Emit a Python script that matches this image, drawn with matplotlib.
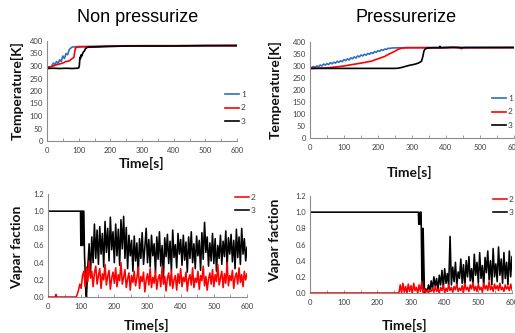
import numpy as np
import matplotlib
matplotlib.use("Agg")
import matplotlib.pyplot as plt
from matplotlib.ticker import MultipleLocator, FormatStrFormatter

# ---- data ----
# temperature, non pressurized
tl_t1 = [0, 5, 10, 15, 20, 25, 30, 35, 40, 45, 50, 55, 60, 65, 70, 75, 80, 90, 100, 150, 200, 250, 300, 400, 500, 600]
tl_T1 = [295, 297, 296, 300, 312, 305, 318, 310, 325, 318, 340, 330, 350, 345, 365, 372, 376, 377, 378, 378, 380, 381, 381, 381, 382, 382]
tl_t2 = [0, 10, 20, 30, 40, 50, 60, 70, 75, 80, 85, 88, 90, 95, 100, 120, 150, 200, 300, 400, 500, 600]
tl_T2 = [295, 296, 300, 305, 308, 312, 318, 320, 325, 330, 335, 360, 372, 375, 376, 377, 378, 380, 381, 381, 382, 383]
tl_t3 = [0, 20, 40, 60, 80, 95, 100, 102, 104, 106, 108, 110, 114, 118, 122, 126, 130, 140, 150, 200, 250, 300, 400, 500, 600]
tl_T3 = [290, 291, 290, 291, 290, 291, 292, 300, 335, 330, 345, 340, 355, 360, 370, 374, 375, 376, 376, 378, 380, 380, 380, 381, 381]

# temperature, pressurized
tr_t1 = list(range(0, 241, 5)) + [260, 350, 450, 600]
tr_T1 = [293, 294, 298, 295, 300, 297, 304, 300, 308, 304, 310, 306, 314, 309, 316, 312,
         320, 315, 322, 318, 327, 322, 330, 325, 334, 330, 338, 333, 342, 338, 346, 342,
         349, 345, 352, 349, 356, 352, 360, 357, 364, 361, 368, 365, 371, 369, 374, 373,
         375, 376, 377, 377, 377]
tr_t2 = [0, 50, 100, 120, 150, 180, 200, 220, 230, 240, 250, 260, 270, 280, 300, 400, 440, 445, 450, 600]
tr_T2 = [290, 292, 300, 305, 312, 320, 330, 340, 348, 355, 362, 370, 374, 376, 376, 376, 378, 372, 376, 377]
tr_t3 = [0, 100, 200, 250, 260, 270, 280, 290, 300, 310, 320, 328, 332, 335, 338, 345, 360, 380, 382, 384, 400, 420, 440, 460, 500, 600]
tr_T3 = [290, 290, 290, 290, 291, 294, 298, 302, 305, 308, 313, 320, 340, 362, 370, 375, 376, 376, 382, 376, 377, 378, 376, 377, 377, 377]

# vapor fraction, non pressurized
bl_t3_start = [0, 98, 99, 100, 101, 103, 104, 106, 108, 110, 112, 114, 116]
bl_v3_start = [1, 1, 0.6, 0.6, 1, 1, 0.6, 1, 1, 0.5, 0.3, 0.05, 0.0]
bl_v3 = [0.35, 0.62, 0.25, 0.70, 0.40, 0.85, 0.45, 0.78, 0.38, 0.82, 0.50, 0.74, 0.35, 0.88,
         0.52, 0.80, 0.42, 0.93, 0.55, 0.76, 0.40, 0.85, 0.48, 0.79, 0.37, 0.90, 0.56, 0.94,
         0.45, 0.81, 0.33, 0.72, 0.48, 0.66, 0.30, 0.71, 0.42, 0.63, 0.26, 0.68, 0.45, 0.75,
         0.38, 0.58, 0.80, 0.40, 0.67, 0.35, 0.72, 0.48, 0.62, 0.28, 0.70, 0.44, 0.76, 0.36,
         0.60, 0.22, 0.69, 0.47, 0.73, 0.39, 0.65, 0.30, 0.78, 0.46, 0.61, 0.34, 0.74, 0.50,
         0.67, 0.37, 0.72, 0.43, 0.64, 0.29, 0.70, 0.45, 0.76, 0.40, 0.62, 0.33, 0.71, 0.48,
         0.66, 0.31, 0.75, 0.44, 0.87, 0.52, 0.70, 0.36, 0.63, 0.42, 0.74, 0.39, 0.68, 0.30,
         0.60, 0.45, 0.72, 0.38, 0.65, 0.47, 0.77, 0.35, 0.69, 0.50, 0.73, 0.41, 0.66, 0.33,
         0.79, 0.46, 0.70, 0.38, 0.80, 0.50, 0.68, 0.42, 0.58]
bl_t2_start = [0, 22, 24, 26, 28, 85, 88, 92, 96, 100, 104, 108, 112]
bl_v2_start = [0, 0, 0.03, 0, 0, 0, 0.03, 0.08, 0.15, 0.1, 0.25, 0.3, 0.12]
bl_v2 = [0.35, 0.18, 0.42, 0.22, 0.30, 0.12, 0.28, 0.36, 0.15, 0.25, 0.33, 0.10, 0.27, 0.20,
         0.38, 0.14, 0.24, 0.31, 0.09, 0.22, 0.29, 0.16, 0.34, 0.12, 0.26, 0.19, 0.40, 0.15,
         0.23, 0.32, 0.11, 0.21, 0.28, 0.08, 0.25, 0.17, 0.30, 0.13, 0.22, 0.35, 0.10, 0.24,
         0.18, 0.29, 0.06, 0.20, 0.27, 0.14, 0.33, 0.11, 0.23, 0.16, 0.30, 0.09, 0.21, 0.26,
         0.12, 0.35, 0.15, 0.24, 0.07, 0.22, 0.28, 0.13, 0.31, 0.10, 0.20, 0.25, 0.08, 0.27,
         0.16, 0.33, 0.12, 0.23, 0.18, 0.29, 0.07, 0.21, 0.26, 0.14, 0.34, 0.11, 0.22, 0.17,
         0.30, 0.09, 0.25, 0.19, 0.36, 0.13, 0.24, 0.08, 0.21, 0.28, 0.15, 0.32, 0.12, 0.26,
         0.18, 0.38, 0.14, 0.22, 0.30, 0.11, 0.27, 0.16, 0.40, 0.13, 0.25, 0.19, 0.31, 0.10,
         0.23, 0.28, 0.15, 0.34, 0.17, 0.26, 0.12, 0.30, 0.20, 0.27]

# vapor fraction, pressurized
br_t3_start = [0, 322, 323, 326, 327, 330, 332, 334, 336, 338, 340, 344, 348]
br_v3_start = [1, 1, 0.85, 0.85, 1, 1, 0.3, 0.05, 0.8, 0.4, 0.0, 0.05, 0.02]
br_v3 = [0.10, 0.02, 0.15, 0.05, 0.20, 0.08, 0.18, 0.03, 0.22, 0.10, 0.28, 0.06, 0.30, 0.12,
         0.24, 0.08, 0.70, 0.10, 0.32, 0.14, 0.38, 0.09, 0.26, 0.18, 0.42, 0.12, 0.35, 0.07,
         0.40, 0.20, 0.45, 0.15, 0.30, 0.10, 0.48, 0.22, 0.38, 0.12, 0.50, 0.18, 0.34, 0.08,
         0.44, 0.25, 0.52, 0.16, 0.40, 0.10, 0.55, 0.20, 0.36, 0.14, 0.57, 0.22, 0.42, 0.12,
         0.50, 0.18, 0.38, 0.10, 0.52, 0.20, 0.45]
br_t2_start = [0, 264]
br_v2_start = [0, 0]
br_v2 = [0.10, 0.0, 0.12, 0.01, 0.08, 0.0, 0.11, 0.02, 0.09, 0.0, 0.12, 0.03, 0.07, 0.0,
         0.10, 0.02, 0.14, 0.0, 0.05, 0.01, 0.03, 0.0, 0.04, 0.02, 0.06, 0.01, 0.08, 0.02,
         0.05, 0.0, 0.07, 0.03, 0.09, 0.01, 0.06, 0.02, 0.10, 0.03, 0.07, 0.01, 0.08, 0.04,
         0.11, 0.02, 0.06, 0.03, 0.09, 0.01, 0.12, 0.04, 0.07, 0.02, 0.10, 0.05, 0.13, 0.03,
         0.08, 0.02, 0.11, 0.04, 0.07, 0.01, 0.12, 0.05, 0.09, 0.03, 0.14, 0.04, 0.08, 0.02,
         0.11, 0.05, 0.09, 0.03, 0.12, 0.04, 0.07, 0.02, 0.10, 0.05, 0.08, 0.03, 0.11, 0.04]

STEP = 4  # sampling of the noisy part [s]

BLUE = "#2e6fc4"
RED = "#ff0000"
BLACK = "#000000"
TICK_C = "#404040"
SPINE_C = "#8c8c8c"
LABEL_FONT = "Lato"


def join(t_start, v_start, v_noisy):
    # noisy samples continue after the last explicit point
    t0 = t_start[-1] + STEP
    t = list(t_start) + [t0 + STEP * i for i in range(len(v_noisy))]
    return np.array(t), np.array(list(v_start) + list(v_noisy))


def style_axes(ax, ymax, ystep):
    ax.set_xlim(0, 600)
    ax.set_ylim(0, ymax)
    ax.xaxis.set_major_locator(MultipleLocator(100))
    ax.xaxis.set_minor_locator(MultipleLocator(50))
    ax.yaxis.set_major_locator(MultipleLocator(ystep))
    for s in ["top", "right"]:
        ax.spines[s].set_visible(False)
    for s in ["left", "bottom"]:
        ax.spines[s].set_color(SPINE_C)
        ax.spines[s].set_linewidth(0.8)
    ax.tick_params(axis="both", which="both", colors=SPINE_C, labelcolor=TICK_C,
                   labelsize=5.5, width=0.6)
    ax.tick_params(axis="x", which="major", length=2.5, direction="in", pad=4)
    ax.tick_params(axis="x", which="minor", length=2, direction="in")
    ax.tick_params(axis="y", length=0, pad=3)


def fix_tick_fonts(ax):
    for lab in ax.get_xticklabels() + ax.get_yticklabels():
        lab.set_fontfamily(LABEL_FONT)


def legend(ax, fig, x, y):
    leg = ax.legend(loc="center left", bbox_to_anchor=(x, y), bbox_transform=fig.transFigure,
                    frameon=False, fontsize=6, handlelength=1.7, handletextpad=0.2,
                    labelspacing=0.75, borderpad=0, borderaxespad=0)
    for txt in leg.get_texts():
        txt.set_fontfamily(LABEL_FONT)
        txt.set_color(TICK_C)


W, H = 515, 333
fig = plt.figure(figsize=(W / 100, H / 100), dpi=100)


def add_axes(l, t, r, b):
    return fig.add_axes([l / W, 1 - b / H, (r - l) / W, (b - t) / H])


ax_tl = add_axes(47, 41, 237, 141)
ax_tr = add_axes(310, 42, 514, 138)
ax_bl = add_axes(48, 194, 247, 297)
ax_br = add_axes(310, 196, 512, 293)

# temperature plots
ax_tl.plot(tl_t1, tl_T1, color=BLUE, lw=1.2, label="1")
ax_tl.plot(tl_t2, tl_T2, color=RED, lw=1.2, label="2")
ax_tl.plot(tl_t3, tl_T3, color=BLACK, lw=1.2, label="3")
ax_tr.plot(tr_t1, tr_T1, color=BLUE, lw=1.2, label="1")
ax_tr.plot(tr_t2, tr_T2, color=RED, lw=1.2, label="2")
ax_tr.plot(tr_t3, tr_T3, color=BLACK, lw=1.2, label="3")
for ax in (ax_tl, ax_tr):
    style_axes(ax, 400, 50)

# vapor fraction plots
t, v = join(bl_t2_start, bl_v2_start, bl_v2)
ax_bl.plot(t, v, color=RED, lw=1.15, label="2", zorder=3)
t, v = join(bl_t3_start, bl_v3_start, bl_v3)
ax_bl.plot(t, v, color=BLACK, lw=1.15, label="3", zorder=2)
t, v = join(br_t2_start, br_v2_start, br_v2)
ax_br.plot(t, v, color=RED, lw=1.15, label="2", zorder=3)
t, v = join(br_t3_start, br_v3_start, br_v3)
ax_br.plot(t, v, color=BLACK, lw=1.15, label="3", zorder=2)
for ax in (ax_bl, ax_br):
    style_axes(ax, 1.2, 0.2)
    ax.yaxis.set_major_formatter(FormatStrFormatter("%.1f"))

for ax in (ax_tl, ax_tr, ax_bl, ax_br):
    fix_tick_fonts(ax)

legend(ax_tl, fig, 225 / W, 1 - 108 / H)
legend(ax_tr, fig, 492 / W, 1 - 112 / H)
legend(ax_bl, fig, 235 / W, 1 - 204 / H)
legend(ax_br, fig, 493 / W, 1 - 206 / H)

# titles and axis labels
fig.text(138 / W, 1 - 18 / H, "Non pressurize", ha="center", va="center",
         fontsize=13, family="Liberation Sans")
fig.text(406 / W, 1 - 18 / H, "Pressurerize", ha="center", va="center",
         fontsize=13, family="Liberation Sans")

lab_kw = dict(fontsize=10, fontweight="bold", family=LABEL_FONT, color="#111111")
fig.text(142 / W, 1 - 163 / H, "Time[s]", ha="center", va="center", **lab_kw)
fig.text(410 / W, 1 - 172 / H, "Time[s]", ha="center", va="center", **lab_kw)
fig.text(147 / W, 1 - 325 / H, "Time[s]", ha="center", va="center", **lab_kw)
fig.text(405 / W, 1 - 325 / H, "Time[s]", ha="center", va="center", **lab_kw)
fig.text(17 / W, 1 - 91 / H, "Temperature[K]", rotation=90, ha="center", va="center", **lab_kw)
fig.text(275 / W, 1 - 90 / H, "Temperature[K]", rotation=90, ha="center", va="center", **lab_kw)
fig.text(17 / W, 1 - 247 / H, "Vapar faction", rotation=90, ha="center", va="center", **lab_kw)
fig.text(275 / W, 1 - 240 / H, "Vapar faction", rotation=90, ha="center", va="center", **lab_kw)

fig.savefig("out.png", dpi=100)
